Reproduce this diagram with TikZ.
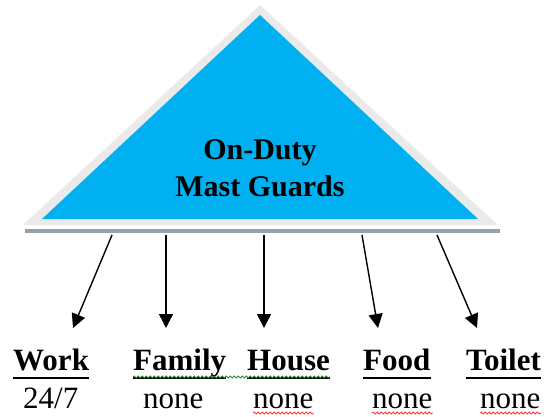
\documentclass[tikz,border=0pt]{standalone}
\usepackage{fontspec}
\setmainfont{Liberation Serif}
\usetikzlibrary{arrows.meta,calc,decorations.pathmorphing}
\definecolor{skyblue}{HTML}{00B0F0}
\definecolor{bevel}{HTML}{EAEAEA}
\definecolor{shadowbar}{HTML}{97A1AE}
\definecolor{grammargreen}{HTML}{2E8B2E}
\definecolor{spellred}{HTML}{FF3B3B}
\tikzset{
  link/.style={draw=black, line width=1.4pt, -{Triangle[length=14pt,width=14pt]}},
  head/.style={anchor=base west, inner sep=0pt, font=\fontsize{31}{31}\selectfont\bfseries},
  value/.style={anchor=base west, inner sep=0pt, font=\fontsize{31}{31}\selectfont},
  uline/.style={line width=2.6pt, black},
  squiggle/.style={decorate, decoration={snake, segment length=4pt, amplitude=1pt}, line width=0.8pt},
}
\begin{document}
\begin{tikzpicture}[x=1pt,y=-1pt]
\useasboundingbox (0,0) rectangle (544,416);

% bevelled triangle with its base shadow
\fill[bevel] (23,225) -- (260,5) -- (498,225) -- cycle;
\fill[skyblue] (42,219) -- (260,15) -- (478,219) -- cycle;
\fill[shadowbar] (25,229) rectangle (500,233);

\node[anchor=base, inner sep=0pt, align=center,
      font=\fontsize{30}{37}\selectfont\bfseries] (title) at (260,196)
  {On-Duty\\Mast Guards};

% arrow anchors under the triangle
\coordinate (s1) at (112,235);
\coordinate (s2) at (166,235);
\coordinate (s3) at (264,235);
\coordinate (s4) at (362,235);
\coordinate (s5) at (437,235);
\coordinate (t1) at (73,328);
\coordinate (t2) at (166,328);
\coordinate (t3) at (264,328);
\coordinate (t4) at (378,328);
\coordinate (t5) at (477,328);
\foreach \i in {1,...,5} \draw[link] (s\i) -- (t\i);

% categories
\node[head] (work)   at (13,370)  {Work};
\node[head] (family) at (133,370) {Family};
\node[head] (house)  at (247,370) {House};
\node[head] (food)   at (363,370) {Food};
\node[head] (toilet) at (466,370) {Toilet};

\node[value] (v1) at (23,408)  {24/7};
\node[value] (v2) at (143,408) {none};
\node[value] (v3) at (253,408) {none};
\node[value] (v4) at (372,408) {none};
\node[value] (v5) at (480,408) {none};

\foreach \n in {work,family,house,food,toilet}
  \draw[uline] ($(\n.base west)+(0,8)$) -- ($(\n.base east)+(0,8)$);

% proofing marks
\draw[squiggle, grammargreen] ($(family.base west)+(0,7)$) -- ($(house.base east)+(0,7)$);
\foreach \n in {v3,v4,v5}
  \draw[squiggle, spellred] ($(\n.base west)+(0,5)$) -- ($(\n.base east)+(0,5)$);
\end{tikzpicture}
\end{document}
